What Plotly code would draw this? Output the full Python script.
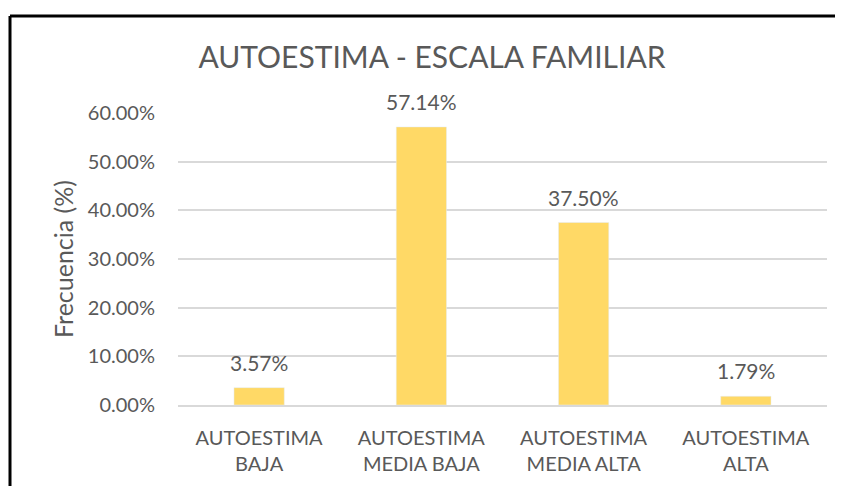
import plotly.graph_objects as go

categories = ["AUTOESTIMA<br>BAJA", "AUTOESTIMA<br>MEDIA BAJA", "AUTOESTIMA<br>MEDIA ALTA", "AUTOESTIMA<br>ALTA"]
values = [0.0357, 0.5714, 0.3750, 0.0179]
labels = ["3.57%", "57.14%", "37.50%", "1.79%"]
y_ticks = [0, 0.1, 0.2, 0.3, 0.4, 0.5, 0.6]
y_tick_text = ["0.00%", "10.00%", "20.00%", "30.00%", "40.00%", "50.00%", "60.00%"]

W, H = 843, 486
FONT = "Lato"
GRAY = "#595959"

fig = go.Figure(go.Bar(
    x=categories, y=values, marker_color="#FFD966", hoverinfo="skip",
))

for c, v, t in zip(categories, values, labels):
    fig.add_annotation(x=c, y=v, text=t, showarrow=False, yanchor="bottom",
                       yshift=11, font=dict(family=FONT, size=21, color=GRAY))

fig.update_layout(
    width=W, height=H, margin=dict(l=170, r=24, t=105, b=89, autoexpand=False),
    paper_bgcolor="white", plot_bgcolor="white", bargap=0.69,
    showlegend=False,
    title=dict(text="AUTOESTIMA - ESCALA FAMILIAR", x=424 / W, xanchor="center",
               xref="container", yref="container",
               y=1 - 49.5 / H, yanchor="middle",
               font=dict(family=FONT, size=30, color=GRAY)),
    xaxis=dict(showgrid=False, zeroline=False, automargin=False,
               showline=True, linecolor="#d9d9d9", linewidth=2,
               ticklabelstandoff=14,
               tickfont=dict(family=FONT, size=20, color=GRAY)),
    yaxis=dict(range=[0, 0.6], automargin=False,
               tickvals=y_ticks, ticktext=y_tick_text,
               showgrid=True, gridcolor="#d9d9d9", gridwidth=2, zeroline=False,
               ticklabelstandoff=22,
               tickfont=dict(family=FONT, size=20, color=GRAY),
               title=dict(text="Frecuencia (%)", standoff=7,
                          font=dict(family=FONT, size=25, color=GRAY))),
    shapes=[
        dict(type="line", xref="paper", yref="paper", x0=-168 / 649, x1=1.1,
             y0=1 + 97 / 292, y1=1 + 97 / 292, line=dict(color="black", width=3)),
        dict(type="line", xref="paper", yref="paper", x0=-168 / 649, x1=-168 / 649,
             y0=1 + 97 / 292, y1=-0.5, line=dict(color="black", width=3)),
    ],
)

fig.write_html("out.html")
